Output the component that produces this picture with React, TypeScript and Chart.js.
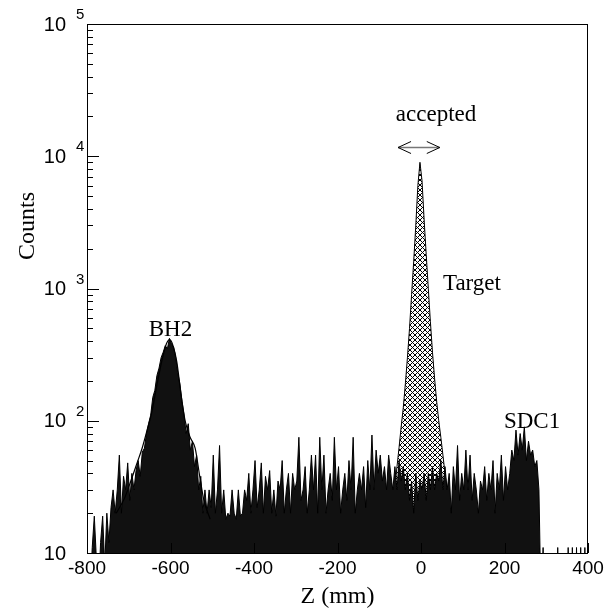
import React, { useEffect, useRef } from 'react';
import { Chart, registerables } from 'chart.js';

Chart.register(...registerables);

// Histogram binning (mm)
const BIN_START = -800;
const BIN_WIDTH = 5;

// Counts per 5 mm bin, from Z = -800 to 400 (values of 1 lie below the axis)
const COUNTS = [
  8, 5, 11, 19, 9, 5, 12, 19, 8, 20,
  12, 22, 30, 20, 30, 55, 20, 38, 30, 48,
  25, 40, 30, 42, 50, 38, 58, 62, 80, 95,
  110, 150, 170, 220, 250, 300, 330, 370, 350, 420,
  380, 360, 300, 230, 190, 140, 110, 80, 95, 60,
  70, 45, 55, 30, 38, 20, 30, 20, 30, 22,
  55, 20, 30, 65, 20, 30, 18, 20, 19, 30,
  20, 18, 30, 19, 20, 30, 25, 40, 20, 30,
  50, 22, 30, 48, 20, 38, 30, 42, 20, 30,
  19, 35, 30, 50, 20, 30, 40, 20, 40, 30,
  35, 75, 25, 30, 45, 20, 30, 55, 30, 55,
  20, 75, 30, 55, 20, 30, 40, 25, 75, 30,
  45, 20, 30, 40, 25, 50, 30, 75, 20, 30,
  40, 30, 45, 22, 50, 30, 78, 30, 60, 40,
  55, 35, 45, 30, 55, 40, 30, 45, 30, 50,
  35, 45, 30, 40, 25, 35, 20, 40, 25, 35,
  30, 40, 25, 40, 30, 45, 30, 40, 35, 50,
  30, 45, 30, 40, 20, 45, 30, 65, 25, 40,
  30, 60, 30, 55, 25, 40, 30, 20, 35, 30,
  45, 25, 40, 30, 50, 20, 40, 30, 55, 25,
  45, 30, 40, 60, 50, 85, 55, 80, 60, 90,
  50, 70, 55, 60, 45, 50, 30, 4, 11, 1,
  1, 1, 1, 1, 1, 11, 1, 1, 1, 1,
  11, 1, 11, 1, 11, 1, 11, 1, 11, 1,
];

// Target peak (cross-hatched)
const PEAK_Z = [-72.5, -67.5, -62.5, -57.5, -52.5, -47.5, -42.5, -37.5, -32.5, -27.5, -22.5, -17.5, -12.5, -7.5, -2.5,
  2.5, 7.5, 12.5, 17.5, 22.5, 27.5, 32.5, 37.5, 42.5, 47.5, 52.5, 57.5, 62.5, 67.5];
const PEAK_COUNTS = [10, 25, 32, 45, 63, 90, 125, 190, 300, 500, 900, 1600, 3000, 6000, 9000,
  6500, 3300, 1800, 1000, 560, 330, 210, 140, 100, 75, 55, 40, 30, 10];

// BH2 fit curve
const FIT_Z = [-730, -710, -695, -680, -668, -656, -645, -632, -620, -610, -602, -594, -585, -575, -565, -553, -541, -530, -520, -505];
const FIT_COUNTS = [20, 26, 35, 48, 62, 85, 115, 190, 290, 380, 410, 370, 280, 160, 100, 75, 62, 38, 25, 18];

// Axis ticks
const X_TICKS = [-800, -600, -400, -200, 0, 200, 400];
const Y_DECADES = [10, 100, 1000, 10000, 100000];
const Y_EXPONENTS = ['', '2', '3', '4', '5'];

// Annotations (data coordinates)
const ANNOTATIONS = [
  { text: 'BH2', z: -600, v: 440 },
  { text: 'Target', z: 122, v: 970 },
  { text: 'SDC1', z: 266, v: 88 },
  { text: 'accepted', z: 36, v: 18400 },
];
const ARROW = { z1: -55, z2: 45, v: 11700 };

const SANS = '"Liberation Sans", Arial, Helvetica, sans-serif';
const SERIF = '"Liberation Serif", "Times New Roman", serif';

function makeHatch(): CanvasPattern | string {
  const n = 5;
  const c = document.createElement('canvas');
  c.width = n;
  c.height = n;
  const g = c.getContext('2d');
  if (!g) return '#888';
  g.fillStyle = '#fff';
  g.fillRect(0, 0, n, n);
  g.strokeStyle = '#000';
  g.lineWidth = 1;
  g.beginPath();
  g.moveTo(-1, -1);
  g.lineTo(n + 1, n + 1);
  g.moveTo(n + 1, -1);
  g.lineTo(-1, n + 1);
  g.stroke();
  return g.createPattern(c, 'repeat') || '#888';
}

const decorPlugin = {
  id: 'decor',
  afterDraw(chart: any) {
    const { ctx, chartArea: a, scales } = chart;
    const x = scales.x;
    const y = scales.y;
    ctx.save();
    ctx.strokeStyle = '#000';
    ctx.lineWidth = 1;
    // frame
    ctx.strokeRect(a.left + 0.5, a.top + 0.5, a.right - a.left - 1, a.bottom - a.top);

    // y ticks (inside)
    for (let d = 1; d <= 5; d++) {
      for (let m = 1; m <= 9; m++) {
        const v = m * Math.pow(10, d);
        if (v > 100000) break;
        const py = Math.round(y.getPixelForValue(v)) + 0.5;
        const len = m === 1 ? 12 : 6;
        ctx.beginPath();
        ctx.moveTo(a.left, py);
        ctx.lineTo(a.left + len, py);
        ctx.stroke();
      }
    }
    // x ticks (inside)
    X_TICKS.forEach((t) => {
      const px = Math.round(x.getPixelForValue(t)) + 0.5;
      ctx.beginPath();
      ctx.moveTo(px, a.bottom);
      ctx.lineTo(px, a.bottom - 10);
      ctx.stroke();
    });

    ctx.fillStyle = '#000';
    // y labels
    ctx.textBaseline = 'middle';
    Y_DECADES.forEach((v, i) => {
      const py = y.getPixelForValue(v);
      ctx.font = `20px ${SANS}`;
      ctx.textAlign = 'right';
      ctx.fillText('10', a.left - 21, py + 1);
      if (Y_EXPONENTS[i]) {
        ctx.font = `15px ${SANS}`;
        ctx.textAlign = 'left';
        ctx.fillText(Y_EXPONENTS[i], a.left - 11, py - 9);
      }
    });
    // x labels
    ctx.font = `19px ${SANS}`;
    ctx.textAlign = 'center';
    X_TICKS.forEach((t) => {
      ctx.fillText(String(t), x.getPixelForValue(t), a.bottom + 16);
    });

    // axis titles
    ctx.font = `24px ${SERIF}`;
    ctx.textAlign = 'center';
    ctx.fillText('Z (mm)', (a.left + a.right) / 2, a.bottom + 44);
    ctx.save();
    ctx.translate(28, 226);
    ctx.rotate(-Math.PI / 2);
    ctx.fillText('Counts', 0, 0);
    ctx.restore();

    // annotations
    ctx.font = `23px ${SERIF}`;
    ctx.textBaseline = 'alphabetic';
    ANNOTATIONS.forEach((an) => {
      ctx.fillText(an.text, x.getPixelForValue(an.z), y.getPixelForValue(an.v));
    });

    // accepted arrow
    const x1 = x.getPixelForValue(ARROW.z1);
    const x2 = x.getPixelForValue(ARROW.z2);
    const ay = Math.round(y.getPixelForValue(ARROW.v)) + 0.5;
    ctx.strokeStyle = '#777';
    ctx.lineWidth = 1.5;
    ctx.beginPath();
    ctx.moveTo(x1, ay);
    ctx.lineTo(x2, ay);
    ctx.stroke();
    ctx.strokeStyle = '#000';
    ctx.lineWidth = 1;
    ctx.beginPath();
    ctx.moveTo(x1 + 13, ay - 6);
    ctx.lineTo(x1, ay);
    ctx.lineTo(x1 + 13, ay + 6);
    ctx.moveTo(x2 - 13, ay - 6);
    ctx.lineTo(x2, ay);
    ctx.lineTo(x2 - 13, ay + 6);
    ctx.stroke();
    ctx.restore();
  },
};

export default function App() {
  const ref = useRef<HTMLCanvasElement | null>(null);

  useEffect(() => {
    const canvas = ref.current;
    if (!canvas) return;
    const allData = COUNTS.map((c, i) => ({ x: BIN_START + BIN_WIDTH * (i + 0.5), y: c }));
    const peakData = PEAK_Z.map((z, i) => ({ x: z, y: PEAK_COUNTS[i] }));
    const fitData = FIT_Z.map((z, i) => ({ x: z, y: FIT_COUNTS[i] }));
    const hatch = makeHatch();

    const chart = new Chart(canvas, {
      type: 'line',
      data: {
        datasets: [
          {
            label: 'BH2 fit',
            data: fitData,
            borderColor: '#000',
            borderWidth: 1.2,
            pointRadius: 0,
            fill: false,
            tension: 0.4,
            cubicInterpolationMode: 'monotone',
            order: 0,
          },
          {
            label: 'All',
            data: allData,
            borderColor: '#000',
            borderWidth: 1,
            backgroundColor: '#111',
            pointRadius: 0,
            fill: 'start',
            tension: 0,
            order: 1,
          },
          {
            label: 'Target',
            data: peakData,
            borderColor: '#000',
            borderWidth: 1,
            backgroundColor: hatch as any,
            pointRadius: 0,
            fill: 'start',
            tension: 0,
            order: 2,
          },
        ],
      },
      options: {
        animation: false,
        responsive: false,
        events: [],
        layout: { padding: { top: 24, right: 27, left: 0, bottom: 0 } },
        plugins: { legend: { display: false }, tooltip: { enabled: false } },
        scales: {
          x: {
            type: 'linear',
            min: -800,
            max: 400,
            grid: { display: false },
            border: { display: false },
            ticks: { display: false },
            afterFit: (s: any) => {
              s.height = 55;
            },
          },
          y: {
            type: 'logarithmic',
            min: 10,
            max: 100000,
            grid: { display: false },
            border: { display: false },
            ticks: { display: false },
            afterFit: (s: any) => {
              s.width = 87;
            },
          },
        },
      } as any,
      plugins: [decorPlugin],
    });
    return () => chart.destroy();
  }, []);

  return (
    <canvas
      ref={ref}
      width={615}
      height={608}
      style={{ position: 'fixed', left: 0, top: 0, width: 615, height: 608, display: 'block', background: '#fff' }}
    />
  );
}
